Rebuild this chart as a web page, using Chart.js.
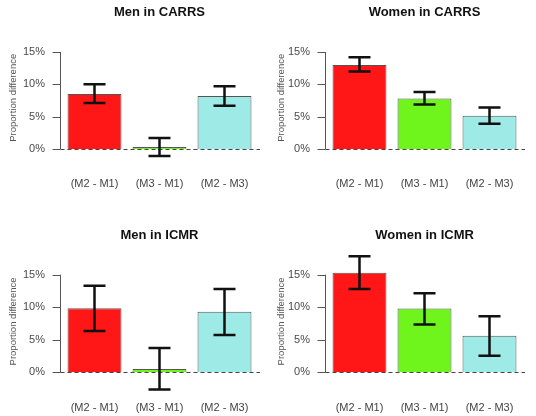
<!DOCTYPE html>
<html>
<head>
<meta charset="utf-8">
<script src="https://cdn.jsdelivr.net/npm/chart.js@4"></script>
<style>
    body { margin: 0; background: #fff; }
    canvas { position: absolute; }
</style>
</head>
<body>
<canvas id="c1" width="268" height="208" style="left:0;top:0"></canvas>
<canvas id="c2" width="268" height="208" style="left:268px;top:0"></canvas>
<canvas id="c3" width="268" height="208" style="left:0;top:208px"></canvas>
<canvas id="c4" width="268" height="208" style="left:268px;top:208px"></canvas>
<script>
// data (percent)
const categories = ['(M2 - M1)', '(M3 - M1)', '(M2 - M3)'];
const yTicks = [0, 5, 10, 15];

const menCarrs      = [8.5, 0.3, 8.2];
const menCarrsLow   = [7.1, -1.1, 6.7];
const menCarrsHigh  = [10.0, 1.7, 9.7];

const womenCarrs     = [13.0, 7.8, 5.15];
const womenCarrsLow  = [12.0, 6.9, 3.9];
const womenCarrsHigh = [14.2, 8.8, 6.4];

const menIcmr      = [9.85, 0.5, 9.3];
const menIcmrLow   = [6.35, -2.65, 5.75];
const menIcmrHigh  = [13.3, 3.75, 12.8];

const womenIcmr     = [15.3, 9.8, 5.6];
const womenIcmrLow  = [12.8, 7.35, 2.55];
const womenIcmrHigh = [17.85, 12.15, 8.6];

const barColors = ['#ff1616', '#6ff41c', '#9deae6'];

// R-like axis line, dashed zero line and error bars
const rStyle = {
    id: 'rStyle',
    afterDatasetsDraw(chart, args, opts) {
        const ctx = chart.ctx;
        const x = chart.scales.x, y = chart.scales.y, a = chart.chartArea;
        const axisX = Math.round(a.left - 2) + 0.5;
        ctx.save();
        ctx.strokeStyle = '#555';
        ctx.lineWidth = 1;
        ctx.beginPath();
        ctx.moveTo(axisX, y.getPixelForValue(yTicks[0]));
        ctx.lineTo(axisX, y.getPixelForValue(yTicks[yTicks.length - 1]));
        yTicks.forEach(function (v) {
            const py = Math.round(y.getPixelForValue(v)) + 0.5;
            ctx.moveTo(axisX - 8, py);
            ctx.lineTo(axisX, py);
        });
        ctx.stroke();

        const zy = Math.round(y.getPixelForValue(0)) + 0.5;
        ctx.setLineDash([4, 3]);
        ctx.strokeStyle = '#444';
        ctx.beginPath();
        ctx.moveTo(axisX, zy);
        ctx.lineTo(a.right + 3, zy);
        ctx.stroke();

        ctx.setLineDash([]);
        ctx.strokeStyle = '#111';
        ctx.lineWidth = 2.5;
        opts.low.forEach(function (lo, i) {
            const px = x.getPixelForValue(i);
            const y1 = y.getPixelForValue(lo), y2 = y.getPixelForValue(opts.high[i]);
            ctx.beginPath();
            ctx.moveTo(px, y1); ctx.lineTo(px, y2);
            ctx.moveTo(px - 11, y1); ctx.lineTo(px + 11, y1);
            ctx.moveTo(px - 11, y2); ctx.lineTo(px + 11, y2);
            ctx.stroke();
        });
        ctx.restore();
    }
};

const font = "'Liberation Sans', Arial, sans-serif";

function panel(id, title, values, low, high, p) {
    new Chart(document.getElementById(id), {
        type: 'bar',
        data: {
            labels: categories,
            datasets: [{
                data: values,
                backgroundColor: barColors,
                borderColor: '#555',
                borderWidth: 1,
                categoryPercentage: 1,
                barPercentage: 0.83
            }]
        },
        options: {
            responsive: false,
            animation: false,
            events: [],
            layout: { padding: { top: 0, left: 0, right: p.right, bottom: p.bottom } },
            plugins: {
                legend: { display: false },
                tooltip: { enabled: false },
                title: {
                    display: true,
                    text: title,
                    fullSize: false,
                    color: '#111',
                    font: { family: font, size: 13, weight: 'bold' },
                    padding: { top: p.titleTop, bottom: 10 }
                },
                rStyle: { low: low, high: high }
            },
            scales: {
                x: {
                    grid: { display: false, drawTicks: false },
                    border: { display: false },
                    ticks: { color: '#444', font: { family: font, size: 11 }, padding: p.labelPad, maxRotation: 0 },
                    afterFit: function (s) { s.height = 26; }
                },
                y: {
                    min: p.min,
                    max: p.max,
                    grid: { display: false, drawTicks: false },
                    border: { display: false },
                    afterBuildTicks: function (s) { s.ticks = yTicks.map(function (v) { return { value: v }; }); },
                    ticks: {
                        color: '#4a4a4a',
                        font: { family: font, size: 11 },
                        padding: 17,
                        callback: function (v) { return v + '%'; }
                    },
                    title: {
                        display: true,
                        text: 'Proportion difference',
                        color: '#555',
                        font: { family: font, size: 9.5 },
                        padding: { top: 8, bottom: 0 }
                    },
                    afterFit: function (s) { s.width = p.axisWidth; }
                }
            }
        },
        plugins: [rStyle]
    });
}

const topRow = { titleTop: 5, bottom: 17, labelPad: 12, min: -2.474, max: 18.31 };
const bottomRow = { titleTop: 19.2, bottom: 0, labelPad: 11, min: -2.72, max: 18.366 };

panel('c1', 'Men in CARRS', menCarrs, menCarrsLow, menCarrsHigh, Object.assign({ axisWidth: 62, right: 11 }, topRow));
panel('c2', 'Women in CARRS', womenCarrs, womenCarrsLow, womenCarrsHigh, Object.assign({ axisWidth: 59, right: 14 }, topRow));
panel('c3', 'Men in ICMR', menIcmr, menIcmrLow, menIcmrHigh, Object.assign({ axisWidth: 62, right: 11 }, bottomRow));
panel('c4', 'Women in ICMR', womenIcmr, womenIcmrLow, womenIcmrHigh, Object.assign({ axisWidth: 59, right: 14 }, bottomRow));
</script>
</body>
</html>
